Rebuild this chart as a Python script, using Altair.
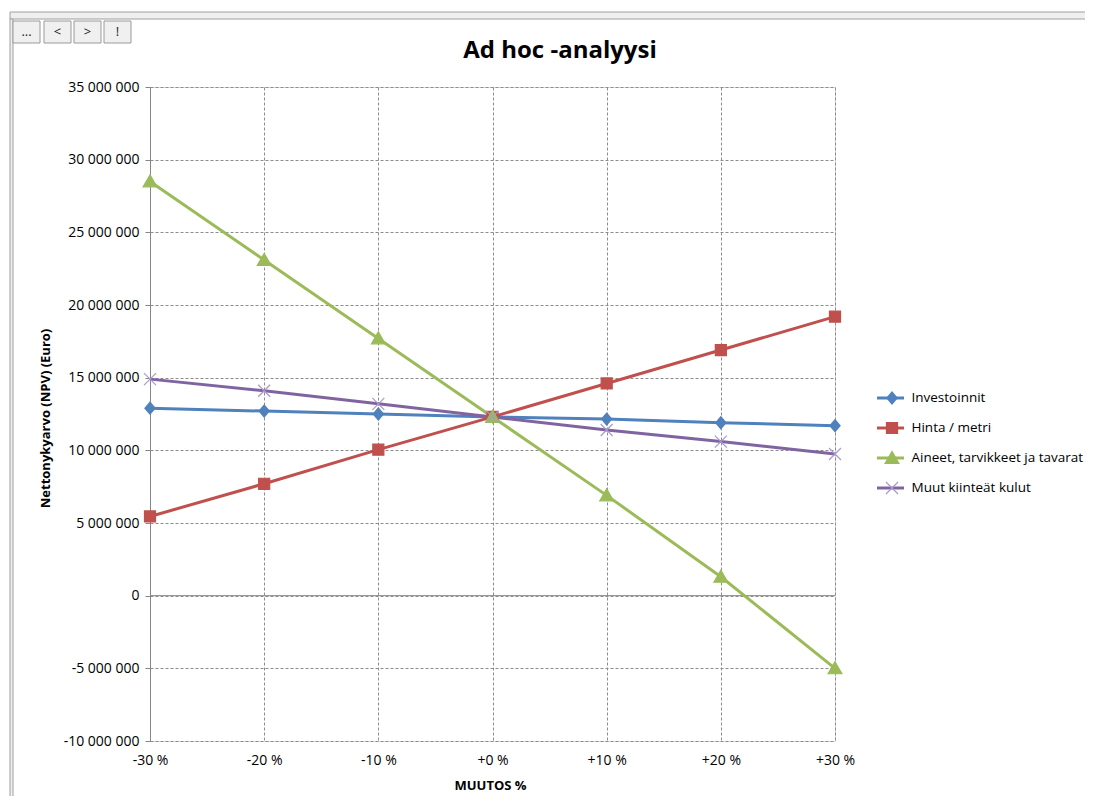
import altair as alt
import pandas as pd

# ---------------- data ----------------
categories = ["-30 %", "-20 %", "-10 %", "+0 %", "+10 %", "+20 %", "+30 %"]
series_names = ["Investoinnit", "Hinta / metri", "Aineet, tarvikkeet ja tavarat", "Muut kiinteät kulut"]
marker_keys = ["m_inv", "m_hinta", "m_aineet", "m_muut"]
investoinnit = [12_900_000, 12_700_000, 12_500_000, 12_300_000, 12_150_000, 11_900_000, 11_700_000]
hinta_metri = [5_450_000, 7_700_000, 10_050_000, 12_300_000, 14_600_000, 16_900_000, 19_200_000]
aineet = [28_500_000, 23_100_000, 17_700_000, 12_300_000, 6_900_000, 1_300_000, -5_000_000]
muut = [14_900_000, 14_100_000, 13_200_000, 12_300_000, 11_400_000, 10_600_000, 9_750_000]
y_ticks = list(range(-10_000_000, 35_000_001, 5_000_000))
title_text = "Ad hoc -analyysi"
y_title = "Nettonykyarvo (NPV) (Euro)"
x_title = "MUUTOS %"
buttons = ["...", "<", ">", "!"]

# ---------------- styles ----------------
FONT = "Open Sans"
line_colors = ["#4F81BD", "#C0504D", "#9BBB59", "#8064A2"]
marker_fill = ["#4F81BD", "#C0504D", "#9BBB59", "transparent"]
marker_stroke = ["#4F81BD", "#C0504D", "#9BBB59", "#A898CC"]
marker_shapes = [
    "M0,-1L0.85,0L0,1L-0.85,0Z",
    "M-0.92,-0.92H0.92V0.92H-0.92Z",
    "M0,-1.1L1.15,0.9L-1.15,0.9Z",
    "M-1,-1L1,1M-1,1L1,-1",
]
button_x1 = [-137, -106, -76, -46]
button_x2 = [-110, -79, -49, -19]

rows = []
for name, key, vals in zip(series_names, marker_keys, [investoinnit, hinta_metri, aineet, muut]):
    for c, v in zip(categories, vals):
        rows.append({"series": name, "series_m": key, "muutos": c, "npv": v})
df = pd.DataFrame(rows)

x_enc = alt.X(
    "muutos:O",
    sort=categories,
    scale=alt.Scale(domain=categories, padding=0),
    axis=alt.Axis(
        title=x_title, labelAngle=0, labelFont=FONT, labelFontSize=14, labelColor="#000",
        labelPadding=12, ticks=False, tickSize=0, domain=False,
        grid=True, gridDash=[3, 2], gridColor="#8c8c8c", gridWidth=1,
        titleFont=FONT, titleFontSize=13, titleFontWeight="bold", titleColor="#000",
        titleX=340, titleY=44, titleAlign="center", titleBaseline="middle",
    ),
)
y_enc = alt.Y(
    "npv:Q",
    scale=alt.Scale(domain=[-10_000_000, 35_000_000], nice=False, zero=False),
    axis=alt.Axis(
        title=y_title, values=y_ticks,
        labelExpr="(datum.value < 0 ? '-' : '') + replace(format(abs(datum.value), ',d'), regexp(',', 'g'), ' ')",
        labelFont=FONT, labelFontSize=14, labelColor="#000", labelPadding=6,
        ticks=True, tickSize=5, tickColor="#868686", domain=True, domainColor="#868686",
        grid=True, gridDash=[3, 2], gridColor="#8c8c8c", gridWidth=1,
        titleFont=FONT, titleFontSize=13, titleFontWeight="bold", titleColor="#000",
        titleX=-105, titleY=331, titleAngle=270, titleAlign="center", titleBaseline="middle",
    ),
)

lines = alt.Chart(df).mark_line(strokeWidth=3).encode(
    x=x_enc,
    y=y_enc,
    color=alt.Color(
        "series:N",
        scale=alt.Scale(domain=series_names, range=line_colors),
        legend=alt.Legend(
            orient="none", legendX=725.5, legendY=296, title=None, symbolType="stroke",
            symbolSize=729, symbolStrokeWidth=3, labelFont=FONT, labelFontSize=13.5,
            labelColor="#000", labelOffset=6, rowPadding=8, padding=0, labelLimit=400,
        ),
    ),
)

pt_legend = alt.Legend(
    orient="none", legendX=735, legendY=304, title=None, symbolSize=144,
    symbolStrokeWidth=1.2, labelExpr="''", labelFont=FONT, labelFontSize=13,
    rowPadding=13, padding=0, labelLimit=400,
)
points = alt.Chart(df).mark_point(filled=True, opacity=1, size=144, strokeWidth=1.2).encode(
    x=alt.X("muutos:O", sort=categories),
    y="npv:Q",
    fill=alt.Fill("series_m:N", scale=alt.Scale(domain=marker_keys, range=marker_fill), legend=pt_legend),
    stroke=alt.Stroke("series_m:N", scale=alt.Scale(domain=marker_keys, range=marker_stroke), legend=pt_legend),
    shape=alt.Shape("series_m:N", scale=alt.Scale(domain=marker_keys, range=marker_shapes), legend=pt_legend),
)

zero_rule = alt.Chart(pd.DataFrame({"npv": [0]})).mark_rule(color="#868686", strokeWidth=1).encode(y="npv:Q")

one = pd.DataFrame({"a": [0]})
top_bar = alt.Chart(one).mark_rect(fill="#efefef", stroke="#a0a0a0", strokeWidth=1).encode(
    x=alt.value(-140), x2=alt.value(953), y=alt.value(-75), y2=alt.value(-68)
)
left_bar = alt.Chart(one).mark_rect(fill="#efefef", stroke="#a0a0a0", strokeWidth=1).encode(
    x=alt.value(-140), x2=alt.value(-137), y=alt.value(-68), y2=alt.value(740)
)
btn_df = pd.DataFrame({"label": buttons, "x1": button_x1, "x2": button_x2})
btn_rect = alt.Chart(btn_df).mark_rect(fill="#f0f0f0", stroke="#9a9a9a", strokeWidth=1).encode(
    x=alt.X("x1:Q", scale=None), x2="x2:Q", y=alt.value(-66), y2=alt.value(-44)
)
btn_text = alt.Chart(btn_df).transform_calculate(xc="(datum.x1 + datum.x2) / 2").mark_text(
    font=FONT, fontSize=13, color="#222", align="center", baseline="middle"
).encode(x=alt.X("xc:Q", scale=None), y=alt.value(-55), text="label:N")

title_mark = alt.Chart(pd.DataFrame({"t": [title_text]})).mark_text(
    font=FONT, fontSize=24, fontWeight="bold", color="#000", align="center", baseline="alphabetic"
).encode(x=alt.value(410), y=alt.value(-29), text="t:N")

chart = alt.layer(
    top_bar, left_bar, btn_rect, btn_text, title_mark, zero_rule, lines, points
).resolve_legend(
    color="independent", fill="independent", stroke="independent", shape="independent"
).properties(
    width=685,
    height=654,
    autosize=alt.AutoSizeParams(type="none"),
    padding={"left": 142, "top": 79, "right": 250, "bottom": 55},
).configure_view(stroke=None).configure(font=FONT)

chart.save("out.html", embed_options={"renderer": "svg", "actions": False})
